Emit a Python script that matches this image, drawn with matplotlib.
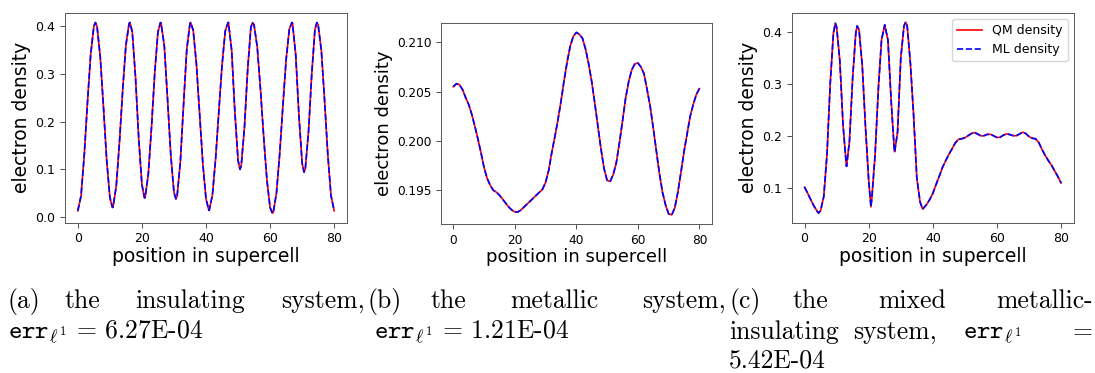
import numpy as np
import matplotlib
matplotlib.use("Agg")
import matplotlib.pyplot as plt

plt.rcParams.update({'font.family': 'DejaVu Sans', 'mathtext.fontset': 'cm'})

# (a) insulating system: electron density
pos_a = [0, 1, 2, 3, 4, 5, 5.5, 6, 7, 8, 9, 10, 10.8, 11, 12, 13, 14, 15, 16, 16.25,
         17, 18, 19, 20, 20.8, 21, 22, 23, 24, 25, 25.8, 26, 27, 28, 29, 30, 30.6,
         31, 32, 33, 34, 35, 35.2, 36, 37, 38, 39, 40, 40.9, 41, 42, 43, 44, 45, 46,
         46.9, 47, 48, 49, 50, 50.6, 51, 52, 53, 54, 54.5, 55, 56, 57, 58, 59, 60,
         60.7, 61, 62, 63, 64, 65, 66, 66.8, 67, 68, 69, 70, 70.6, 71, 72, 73, 74,
         74.6, 75, 76, 77, 78, 79, 80]
qm_a = [0.013, 0.044, 0.129, 0.239, 0.340, 0.400, 0.408, 0.400, 0.336, 0.231, 0.120,
        0.041, 0.020, 0.021, 0.065, 0.157, 0.266, 0.360, 0.406, 0.408, 0.388, 0.293,
        0.165, 0.068, 0.040, 0.041, 0.090, 0.189, 0.302, 0.388, 0.408, 0.406, 0.358,
        0.247, 0.131, 0.052, 0.038, 0.045, 0.116, 0.236, 0.352, 0.406, 0.408, 0.392,
        0.322, 0.217, 0.113, 0.038, 0.014, 0.014, 0.046, 0.122, 0.221, 0.318, 0.390,
        0.408, 0.408, 0.350, 0.221, 0.119, 0.100, 0.108, 0.188, 0.309, 0.398, 0.408,
        0.403, 0.356, 0.268, 0.168, 0.078, 0.020, 0.008, 0.010, 0.051, 0.133, 0.234,
        0.330, 0.394, 0.408, 0.406, 0.340, 0.213, 0.113, 0.094, 0.102, 0.180, 0.300,
        0.394, 0.408, 0.403, 0.349, 0.245, 0.132, 0.045, 0.013]
ml_a = qm_a  # ML prediction is indistinguishable from QM at this scale

# (b) metallic system
pos_b = list(range(81))
qm_b = [0.2055, 0.2058, 0.2057, 0.2052, 0.2044, 0.2037, 0.2027, 0.2015, 0.2002, 0.1988,
        0.1973, 0.1962, 0.1955, 0.1950, 0.1948, 0.1945, 0.1941, 0.1937, 0.1933, 0.1930,
        0.1928, 0.1928, 0.1930, 0.1933, 0.1936, 0.1939, 0.1942, 0.1945, 0.1948, 0.1951,
        0.1958, 0.1970, 0.1988, 0.2004, 0.2021, 0.2040, 0.2061, 0.2080, 0.2096, 0.2106,
        0.2110, 0.2108, 0.2104, 0.2093, 0.2078, 0.2060, 0.2038, 0.2015, 0.1992, 0.1972,
        0.1960, 0.1959, 0.1966, 0.1978, 0.1998, 0.2020, 0.2043, 0.2060, 0.2072, 0.2078,
        0.2079, 0.2075, 0.2068, 0.2052, 0.2035, 0.2013, 0.1990, 0.1967, 0.1948, 0.1935,
        0.1926, 0.1925, 0.1932, 0.1948, 0.1968, 0.1989, 0.2007, 0.2025, 0.2037, 0.2047,
        0.2053]
ml_b = qm_b

# (c) mixed metallic-insulating system
pos_c = [0, 1, 2, 3, 4, 4.4, 5, 6, 7, 8, 9, 9.6, 10, 11, 12, 13, 13.1, 14, 15, 16, 16.4,
         17, 18, 19, 20, 20.7, 21, 22, 23, 24, 25, 26, 27, 28, 28.1, 29, 30, 31, 31.5,
         32, 33, 34, 35, 36, 36.8, 37, 38, 39, 40, 41, 42, 43, 44, 45, 46, 47, 48, 49,
         50, 51, 52, 53, 54, 55, 56, 57, 58, 59, 60, 61, 62, 63, 64, 65, 66, 67, 68,
         69, 70, 71, 72, 73, 74, 75, 76, 77, 78, 79, 80]
qm_c = [0.102, 0.090, 0.077, 0.065, 0.055, 0.052, 0.057, 0.084, 0.165, 0.300, 0.398,
        0.417, 0.410, 0.345, 0.222, 0.146, 0.142, 0.190, 0.312, 0.400, 0.412, 0.404,
        0.335, 0.218, 0.115, 0.064, 0.082, 0.165, 0.290, 0.385, 0.414, 0.385, 0.268,
        0.172, 0.170, 0.208, 0.350, 0.412, 0.419, 0.412, 0.340, 0.240, 0.120, 0.074,
        0.060, 0.061, 0.068, 0.078, 0.090, 0.107, 0.123, 0.140, 0.153, 0.165, 0.176,
        0.187, 0.194, 0.195, 0.197, 0.201, 0.205, 0.207, 0.204, 0.2005, 0.201, 0.2035,
        0.2035, 0.2005, 0.1975, 0.198, 0.202, 0.2044, 0.203, 0.201, 0.2008, 0.204,
        0.2077, 0.205, 0.199, 0.196, 0.195, 0.188, 0.175, 0.163, 0.153, 0.144, 0.133,
        0.122, 0.110]
ml_c = qm_c

xticks = [0, 20, 40, 60, 80]

W, H = 1095, 373
fig = plt.figure(figsize=(W / 100, H / 100), dpi=100)


def px_axes(left, top, right, bottom):
    return fig.add_axes([left / W, 1 - bottom / H, (right - left) / W, (bottom - top) / H])


panels = [
    (px_axes(65, 13, 347, 222.7), pos_a, qm_a, ml_a, 9.0, 13.5),
    (px_axes(441, 23.3, 711.7, 224), pos_b, qm_b, ml_b, 8.7, 13.0),
    (px_axes(791.7, 12.7, 1074, 222.7), pos_c, qm_c, ml_c, 9.0, 13.5),
]

for ax, x, qm, ml, tfs, lfs in panels:
    ax.plot(x, qm, color='red', lw=1.2, label='QM density')
    ax.plot(x, ml, color='blue', ls='--', lw=1.2, label='ML density')
    ax.set_xticks(xticks)
    ax.tick_params(labelsize=tfs, width=0.7, color='0.3')
    for s in ax.spines.values():
        s.set_linewidth(0.7)
        s.set_color('0.35')
    ax.set_xlabel('position in supercell', fontsize=lfs, labelpad=1)
    ax.set_ylabel('electron density', fontsize=lfs, labelpad=3)

panels[0][0].set_yticks([0.0, 0.1, 0.2, 0.3, 0.4])
panels[1][0].set_yticks([0.195, 0.200, 0.205, 0.210])
panels[1][0].yaxis.set_major_formatter(matplotlib.ticker.FormatStrFormatter('%.3f'))
panels[2][0].set_yticks([0.1, 0.2, 0.3, 0.4])
panels[2][0].legend(loc='upper right', fontsize=9)

# captions, justified like the LaTeX subcaptions
cap = dict(family='cmr10', fontsize=18.5, va='baseline')
renderer = fig.canvas.get_renderer()


def justify(words, x0, x1, ybase, weights=None):
    texts = [fig.text(0, 1 - ybase / H, w, **cap) for w in words]
    widths = [t.get_window_extent(renderer).width for t in texts]
    if weights is None:
        weights = [1] * (len(words) - 1)
    unit = (x1 - x0 - sum(widths)) / sum(weights)
    x = x0
    for i, (t, w) in enumerate(zip(texts, widths)):
        t.set_x(x / W)
        if i < len(weights):
            x += w + unit * weights[i]


def left(text, x0, ybase):
    fig.text(x0 / W, 1 - ybase / H, text, **cap)


err = r'$\mathtt{err}_{\ell^1}$'
justify(['(a)', 'the', 'insulating', 'system,'], 8, 365, 308, [0.65, 1, 1])
left(err + r'$\,=\,$6.27E-04', 8, 339)
justify(['(b)', 'the', 'metallic', 'system,'], 368, 726, 308, [0.65, 1, 1])
left(err + r'$\,=\,$1.21E-04', 374, 339)
justify(['(c)', 'the', 'mixed', 'metallic-'], 729, 1093, 308, [0.65, 1, 1])
justify(['insulating', 'system,', err, '='], 729, 1093, 339, [0.5, 0.9, 1.8])
left('5.42E-04', 729, 367)

fig.savefig('out.png', dpi=100)
